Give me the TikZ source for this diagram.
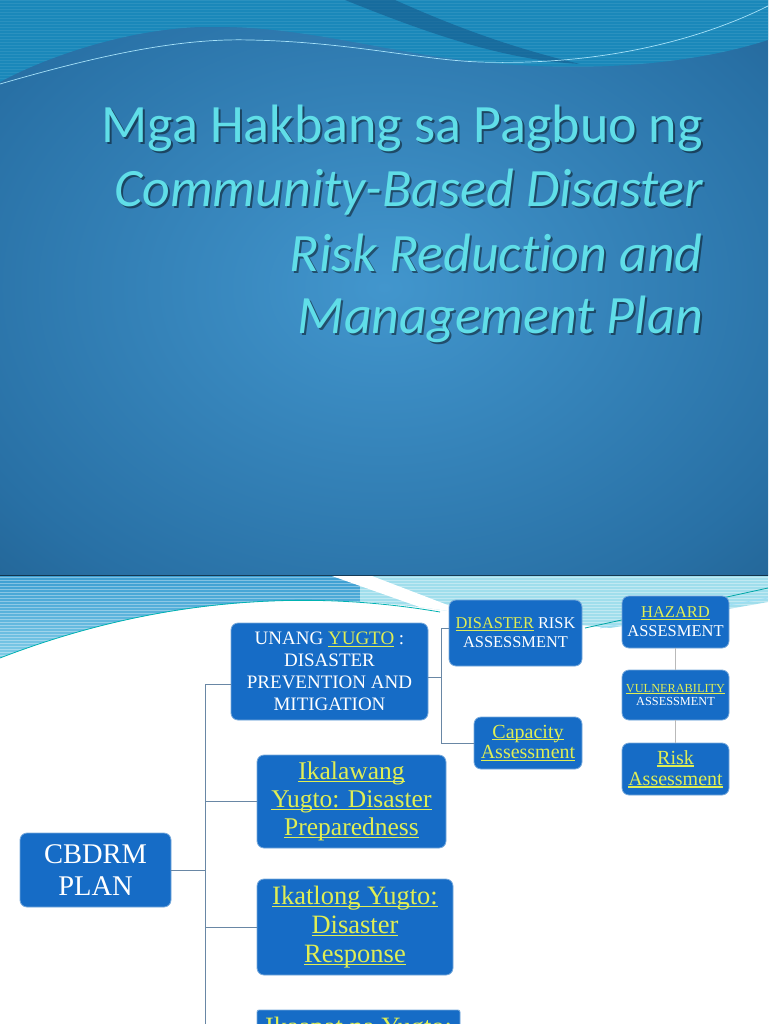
\documentclass[tikz,border=0pt]{standalone}
\usepackage{fontspec}
\setmainfont{Liberation Serif}
\newfontfamily\titlefont[Ligatures={NoCommon}]{Carlito}
\usetikzlibrary{calc}
\definecolor{boxblue}{RGB}{22,108,198}
\definecolor{boxedge}{RGB}{120,170,220}
\definecolor{ylw}{RGB}{224,238,84}
\definecolor{ttlc}{RGB}{96,222,232}
\definecolor{bgin}{RGB}{66,150,205}
\definecolor{bgmid}{RGB}{40,112,165}
\definecolor{bgout}{RGB}{18,66,104}
\definecolor{bandc}{RGB}{26,136,186}
\definecolor{darkwave}{RGB}{22,90,140}
\definecolor{linec}{RGB}{105,135,165}
\definecolor{stripL}{RGB}{60,158,210}
\definecolor{stripL2}{RGB}{130,205,232}
\definecolor{stripR}{RGB}{160,222,236}
\pgfdeclareradialshading{slidebg}{\pgfpoint{0bp}{0bp}}{color(0bp)=(bgin); color(30bp)=(bgmid); color(60bp)=(bgout)}
\newcommand{\yl}[1]{\textcolor{ylw}{\setbox0=\hbox{#1}\rlap{\rule[-0.11em]{\wd0}{0.055em}}\box0}}
\begin{document}
\begin{tikzpicture}[x=1pt,y=-1pt,
  bx/.style={fill=boxblue, draw=boxedge, line width=0.8pt, rounded corners=7pt, text=white, align=center, inner sep=0pt},
  conn/.style={draw=linec, line width=0.9pt},
  gconn/.style={draw=gray!55, line width=1.6pt},
  ttl/.style={text=ttlc, inner sep=0pt, anchor=base east, font={\titlefont\fontsize{54}{60}\selectfont}},
  ttlsh/.style={text=black, opacity=0.45, inner sep=0pt, anchor=base east, font={\titlefont\fontsize{54}{60}\selectfont}}]
\useasboundingbox (0,0) rectangle (768,1024);
\clip (0,0) rectangle (768,1024);
% ---------- top slide ----------
\shade[shading=slidebg] (0,0) rectangle (768,575);
\fill[bandc] (0,0) -- (768,0) -- (768,40) .. controls (700,62) and (600,74) .. (480,62)
  .. controls (380,52) and (300,24) .. (200,27) .. controls (120,30) and (40,60) .. (0,82) -- cycle;
\begin{scope}
\clip (0,0) -- (768,0) -- (768,40) .. controls (700,62) and (600,74) .. (480,62)
  .. controls (380,52) and (300,24) .. (200,27) .. controls (120,30) and (40,60) .. (0,82) -- cycle;
\foreach \yy in {1,4,...,80} \draw[white, opacity=0.08, line width=1pt] (0,\yy) -- (768,\yy);
\fill[darkwave, opacity=0.6] (345,0) -- (395,0) .. controls (440,20) and (500,45) .. (580,64)
  .. controls (500,60) and (420,30) .. (345,0) -- cycle;
\end{scope}
\draw[cyan!35!white, line width=0.7pt] (0,84) .. controls (100,55) and (180,38) .. (250,40)
  .. controls (350,42) and (420,60) .. (480,62) .. controls (600,66) and (700,40) .. (768,6);
\draw[black, opacity=0.5, line width=0.8pt] (0,575) -- (768,575);
% title
\node[ttlsh] (t1s) at (705,145) {Mga Hakbang sa Pagbuo ng};
\node[ttl] (t1) at (703,143) {Mga Hakbang sa Pagbuo ng};
\node[ttlsh] (t2s) at (705,209) {\itshape Community-Based Disaster};
\node[ttl] (t2) at (703,207) {\itshape Community-Based Disaster};
\node[ttlsh] (t3s) at (705,273) {\itshape Risk Reduction and};
\node[ttl] (t3) at (703,271) {\itshape Risk Reduction and};
\node[ttlsh] (t4s) at (705,335) {\itshape Management Plan};
\node[ttl] (t4) at (703,333) {\itshape Management Plan};
% ---------- bottom slide ----------
\fill[white] (0,576) rectangle (768,1024);
\begin{scope}
\clip (0,576) -- (768,576) -- (768,602) .. controls (700,614) .. (610,628) -- (455,612)
  .. controls (300,588) and (150,600) .. (0,658) -- cycle;
\shade[top color=stripL, bottom color=stripL2] (0,576) rectangle (360,660);
\fill[stripR] (360,576) rectangle (768,660);
\fill[white] (332,576) -- (372,576) -- (458,609) -- (445,616) -- cycle;
\foreach \yy in {577,580,...,660} \draw[white, opacity=0.35, line width=1pt] (0,\yy) -- (768,\yy);
\end{scope}
\draw[teal!60!cyan, line width=0.8pt] (0,658) .. controls (150,600) and (300,588) .. (440,612);
\draw[teal!70!cyan, line width=0.8pt] (585,628) -- (768,588);
\draw[cyan!40!white, line width=0.6pt] (600,628) -- (768,598);
% boxes
\node[bx, minimum width=151pt, minimum height=74pt, font={\fontsize{28.5}{32}\selectfont}] (cbdrm) at (95.5,870) {CBDRM\\PLAN};
\node[bx, minimum width=197pt, minimum height=97pt, font={\fontsize{19}{22}\selectfont}] (unang) at (329.5,671.5) {UNANG \yl{YUGTO} :\\DISASTER\\PREVENTION AND\\MITIGATION};
\node[bx, minimum width=133pt, minimum height=66pt, font={\fontsize{16.4}{19}\selectfont}] (dra) at (515.5,633) {\yl{DISASTER} RISK\\ASSESSMENT};
\node[bx, minimum width=108pt, minimum height=52pt, font={\fontsize{20}{20.5}\selectfont}] (cap) at (528,743) {\yl{Capacity}\\\yl{Assessment}};
\node[bx, minimum width=107pt, minimum height=52pt, font={\fontsize{16.5}{19}\selectfont}] (haz) at (675.5,622) {\yl{HAZARD}\\ASSESMENT};
\node[bx, minimum width=107pt, minimum height=50pt, font={\fontsize{12.3}{13.5}\selectfont}] (vul) at (675.5,695) {\yl{VULNERABILITY}\\ASSESSMENT};
\node[bx, minimum width=107pt, minimum height=52pt, font={\fontsize{20}{21}\selectfont}] (risk) at (675.5,769) {\yl{Risk}\\\yl{Assessment}};
\node[bx, minimum width=189pt, minimum height=93pt, font={\fontsize{25.5}{28}\selectfont}] (ika2) at (351.5,801.5) {\yl{Ikalawang}\\\yl{Yugto: Disaster}\\\yl{Preparedness}};
\node[bx, minimum width=196pt, minimum height=96pt, font={\fontsize{26.5}{29}\selectfont}] (ika3) at (355,927) {\yl{Ikatlong Yugto:}\\\yl{Disaster}\\\yl{Response}};
\node[bx, rounded corners=2pt, minimum width=203pt, minimum height=80pt] (ika4) at (358.5,1050) {};
\node[inner sep=0pt, font={\fontsize{26.5}{29}\selectfont}] (ika4t) at (358.5,1029) {\yl{Ikaapat na Yugto:}};
% connectors
\draw[conn] (cbdrm.east) -- ++(34,0) |- ([yshift=-12.5pt]unang.west);
\draw[conn] (cbdrm.east) -- ++(34,0) |- (ika2.west);
\draw[conn] (cbdrm.east) -- ++(34,0) |- (ika3.west);
\draw[conn] (cbdrm.east) -- ++(34,0) |- (ika4.west);
\draw[conn] ([yshift=-6pt]unang.east) -- ++(13,0) |- ([yshift=5pt]dra.west);
\draw[conn] ([yshift=-6pt]unang.east) -- ++(13,0) |- (cap.west);
\draw[gconn] (haz) -- (vul);
\draw[gconn] (vul) -- (risk);
\end{tikzpicture}
\end{document}
